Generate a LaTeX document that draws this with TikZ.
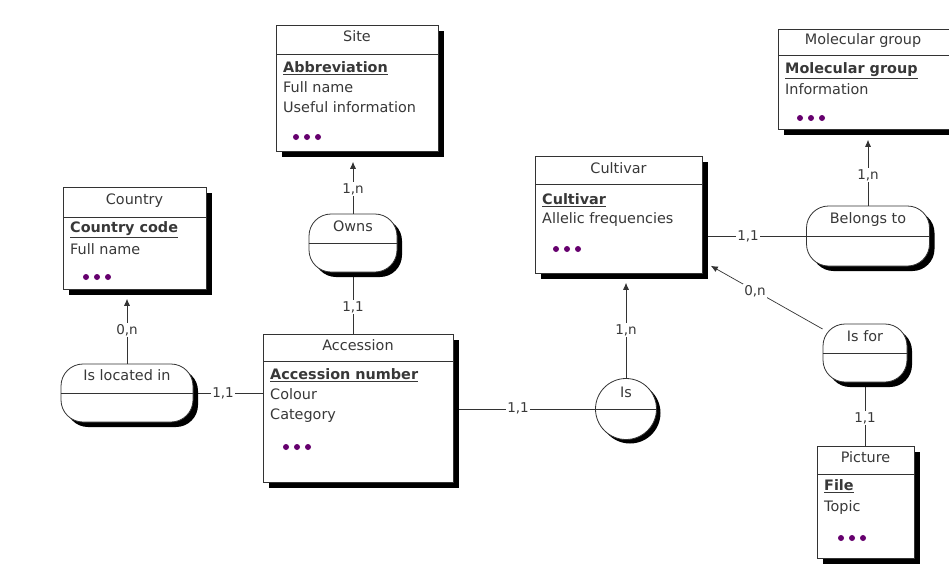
\documentclass[tikz,border=0pt]{standalone}
\usepackage{fontspec}
\setmainfont{DejaVu Sans}
\usetikzlibrary{shadows,arrows.meta,calc,backgrounds}
\definecolor{txt}{gray}{0.22}
\definecolor{dotc}{RGB}{102,0,110}
\begin{document}
\begin{tikzpicture}[x=1pt,y=-1pt,
  font=\fontsize{14.4}{16}\selectfont,
  ent/.style={draw=black!80, line width=0.8pt, fill=white, anchor=north west, inner sep=0pt,
    drop shadow={shadow xshift=6pt,shadow yshift=-6pt,fill=black,opacity=1}},
  rel/.style={draw=black!80, line width=0.8pt, fill=white, rounded corners=22pt, inner sep=0pt,
    drop shadow={shadow xshift=5pt,shadow yshift=-5pt,fill=black,opacity=1}},
  relc/.style={draw=black!80, line width=0.8pt, fill=white, circle, inner sep=0pt,
    drop shadow={shadow xshift=4pt,shadow yshift=-4pt,fill=black,opacity=1}},
  ttl/.style={anchor=mid, text=txt, inner sep=0pt},
  att/.style={anchor=mid west, text=txt, inner sep=0pt},
  card/.style={fill=white, inner sep=1.5pt, text=txt, font=\fontsize{13.5}{15}\selectfont},
  conn/.style={draw=black!80, line width=0.7pt},
  arr/.style={conn, -{Latex[length=7pt,width=6pt]}},
  sep/.style={draw=black!80, line width=0.7pt}]

\useasboundingbox (0,0) rectangle (949,563);

% ---------- entities ----------
\node[ent, minimum width=162pt, minimum height=126pt] (site) at (276,25) {};
\node[ent, minimum width=143pt, minimum height=102pt] (country) at (63,187) {};
\node[ent, minimum width=190pt, minimum height=148pt] (acc) at (263,334) {};
\node[ent, minimum width=167pt, minimum height=117pt] (cult) at (535,156) {};
\node[ent, minimum width=171pt, minimum height=100pt] (mol) at (778,29) {};
\node[ent, minimum width=97pt, minimum height=112pt] (pic) at (817,446) {};

\draw[sep] ($(site.north west)+(0,29)$) -- ($(site.north east)+(0,29)$);
\draw[sep] ($(country.north west)+(0,30)$) -- ($(country.north east)+(0,30)$);
\draw[sep] ($(acc.north west)+(0,27)$) -- ($(acc.north east)+(0,27)$);
\draw[sep] ($(cult.north west)+(0,28)$) -- ($(cult.north east)+(0,28)$);
\draw[sep] ($(mol.north west)+(0,26)$) -- ($(mol.north east)+(0,26)$);
\draw[sep] ($(pic.north west)+(0,28)$) -- ($(pic.north east)+(0,28)$);

% ---------- relationships ----------
\node[rel, minimum width=88pt, minimum height=58pt] (owns) at (353,243) {};
\node[rel, minimum width=132pt, minimum height=58pt] (loc) at (127,393) {};
\node[rel, minimum width=123pt, minimum height=60pt] (bel) at (868,236) {};
\node[rel, minimum width=84pt, minimum height=58pt] (isfor) at (865,353) {};
\node[relc, minimum size=61pt] (is) at (626,409) {};

\draw[sep] (owns.west) -- (owns.east);
\draw[sep] (loc.west) -- (loc.east);
\draw[sep] (bel.west) -- (bel.east);
\draw[sep] (isfor.west) -- (isfor.east);
\draw[sep] (is.west) -- (is.east);

% ---------- connectors (behind shapes) ----------
\coordinate (siteS) at ($(site.south)+(0,10)$);
\coordinate (countryS) at ($(country.south)+(0,9)$);
\coordinate (cultS) at ($(cult.south)+(0,9)$);
\coordinate (molS) at ($(mol.south)+(0,10)$);
\coordinate (cultC) at ($(cult.south east)+(8,-8)$);
\begin{scope}[on background layer]
\fill[white] (0,0) rectangle (949,563);
\draw[arr] (owns) -- (owns |- siteS);
\draw[conn] (owns) -- (owns |- acc.north);
\draw[arr] (loc) -- (loc |- countryS);
\draw[conn] (loc) -- (loc -| acc.west);
\draw[conn] (is) -- (is -| acc.east);
\draw[arr] (is) -- (is |- cultS);
\draw[conn] (bel) -- (bel -| cult.east);
\draw[arr] (bel) -- (bel |- molS);
\draw[arr] (isfor) -- (cultC);
\draw[conn] (isfor) -- (isfor |- pic.north);
\end{scope}

% ---------- cardinalities ----------
\node[card] (c1) at (353,189) {1,n};
\node[card] (c2) at (353,307) {1,1};
\node[card] (c3) at (127,330) {0,n};
\node[card] (c4) at (223,393) {1,1};
\node[card] (c5) at (518,408) {1,1};
\node[card] (c6) at (626,330) {1,n};
\node[card] (c7) at (748,236) {1,1};
\node[card] (c8) at (868,175) {1,n};
\node[card] (c9) at (755,291) {0,n};
\node[card] (c10) at (865,418) {1,1};

% ---------- relationship titles ----------
\node[ttl] (ownsT) at (353,229) {Owns};
\node[ttl] (locT) at (127,378) {Is located in};
\node[ttl] (belT) at (868,221) {Belongs to};
\node[ttl] (isforT) at (865,339) {Is for};
\node[ttl] (isT) at (626,395) {Is};

% ---------- entity titles ----------
\node[ttl] (siteT) at (357,39) {Site};
\node[ttl] (countryT) at (134.5,202) {Country};
\node[ttl] (accT) at (358,348) {Accession};
\node[ttl] (cultT) at (618.5,171) {Cultivar};
\node[ttl] (molT) at (863,42) {Molecular group};
\node[ttl] (picT) at (865.5,460) {Picture};

% ---------- attributes ----------
\node[att] (siteA) at (283,70) {\underline{\textbf{Abbreviation}}};
\node[att] (siteB) at (283,90) {Full name};
\node[att] (siteC) at (283,110) {Useful information};
\node[att] (countryA) at (70,230) {\underline{\textbf{Country code}}};
\node[att] (countryB) at (70,252) {Full name};
\node[att] (accA) at (270,377) {\underline{\textbf{Accession number}}};
\node[att] (accB) at (270,397) {Colour};
\node[att] (accC) at (270,417) {Category};
\node[att] (cultA) at (542,202) {\underline{\textbf{Cultivar}}};
\node[att] (cultB) at (542,221) {Allelic frequencies};
\node[att] (molA) at (785,71) {\underline{\textbf{Molecular group}}};
\node[att] (molB) at (785,92) {Information};
\node[att] (picA) at (824,488) {\underline{\textbf{File}}};
\node[att] (picB) at (824,509) {Topic};

% ---------- dots ----------
\foreach \x/\y in {296/137, 86/277, 286/447, 556/249, 800/118, 841/538}{
  \fill[dotc] (\x,\y) circle (3pt);
  \fill[dotc] (\x+11,\y) circle (3pt);
  \fill[dotc] (\x+22,\y) circle (3pt);
}
\end{tikzpicture}
\end{document}
